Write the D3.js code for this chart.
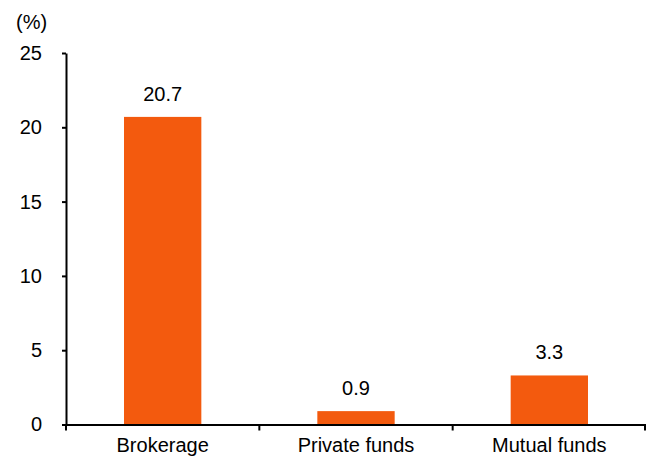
<!DOCTYPE html>
<html lang="en">
<head>
<meta charset="UTF-8">
<script src="https://d3js.org/d3.v7.min.js"></script>
<style>
  body { margin: 0; background: #fff; }
  text { font-family: "Liberation Sans", Arial, sans-serif; fill: #000; }
</style>
</head>
<body>
<svg id="svg1" width="646" height="458"></svg>
<script>
const categories = ["Brokerage", "Private funds", "Mutual funds"];
const values = [20.7, 0.9, 3.3];
const valueLabels = ["20.7", "0.9", "3.3"];
const yTicks = [0, 5, 10, 15, 20, 25];

const svg = d3.select("#svg1");
const margin = {top: 53, left: 66, right: 0, bottom: 33.5};
const width = 646, height = 458;
const fs = "20px";

const x = d3.scaleBand().domain(categories).range([margin.left, width - margin.right]).paddingInner(0.6).paddingOuter(0.3);
const bandX = d3.scaleBand().domain(categories).range([margin.left, width - margin.right]);
const y = d3.scaleLinear().domain([0, 25]).range([height - margin.bottom, margin.top]);

// bars
svg.append("g").selectAll("rect")
  .data(categories)
  .join("rect")
  .attr("x", d => x(d))
  .attr("width", x.bandwidth())
  .attr("y", (d, i) => y(values[i]))
  .attr("height", (d, i) => y(0) - y(values[i]))
  .attr("fill", "#f35a0e");

// value labels
svg.append("g").selectAll("text")
  .data(categories)
  .join("text")
  .attr("x", d => x(d) + x.bandwidth() / 2)
  .attr("y", (d, i) => y(values[i]) - 16)
  .attr("text-anchor", "middle")
  .style("font-size", fs)
  .text((d, i) => valueLabels[i]);

// y axis
const yAxis = svg.append("g")
  .attr("transform", `translate(${margin.left},0)`)
  .call(d3.axisLeft(y).tickValues(yTicks).tickSize(4).tickPadding(20).tickSizeOuter(0));
yAxis.select(".domain").attr("stroke-width", 2);
yAxis.selectAll(".tick line").attr("stroke-width", 2);
yAxis.selectAll(".tick text").style("font-size", fs).attr("fill", "#000");

// x axis
const xAxis = svg.append("g")
  .attr("transform", `translate(0,${y(0)})`)
  .call(d3.axisBottom(bandX).tickSize(0).tickPadding(13).tickSizeOuter(0));
xAxis.select(".domain").attr("stroke-width", 2);
xAxis.selectAll(".tick text").style("font-size", fs).attr("fill", "#000");
// category separators
xAxis.selectAll(".sep")
  .data(categories.concat(["end"]))
  .join("line")
  .attr("class", "sep")
  .attr("x1", (d, i) => i < categories.length ? bandX(d) : bandX.range()[1] - 1)
  .attr("x2", (d, i) => i < categories.length ? bandX(d) : bandX.range()[1] - 1)
  .attr("y1", 0)
  .attr("y2", 6)
  .attr("stroke", "#000")
  .attr("stroke-width", 2);

// unit label
svg.append("text")
  .attr("x", 16)
  .attr("y", 29)
  .style("font-size", fs)
  .text("(%)");
</script>
</body>
</html>
